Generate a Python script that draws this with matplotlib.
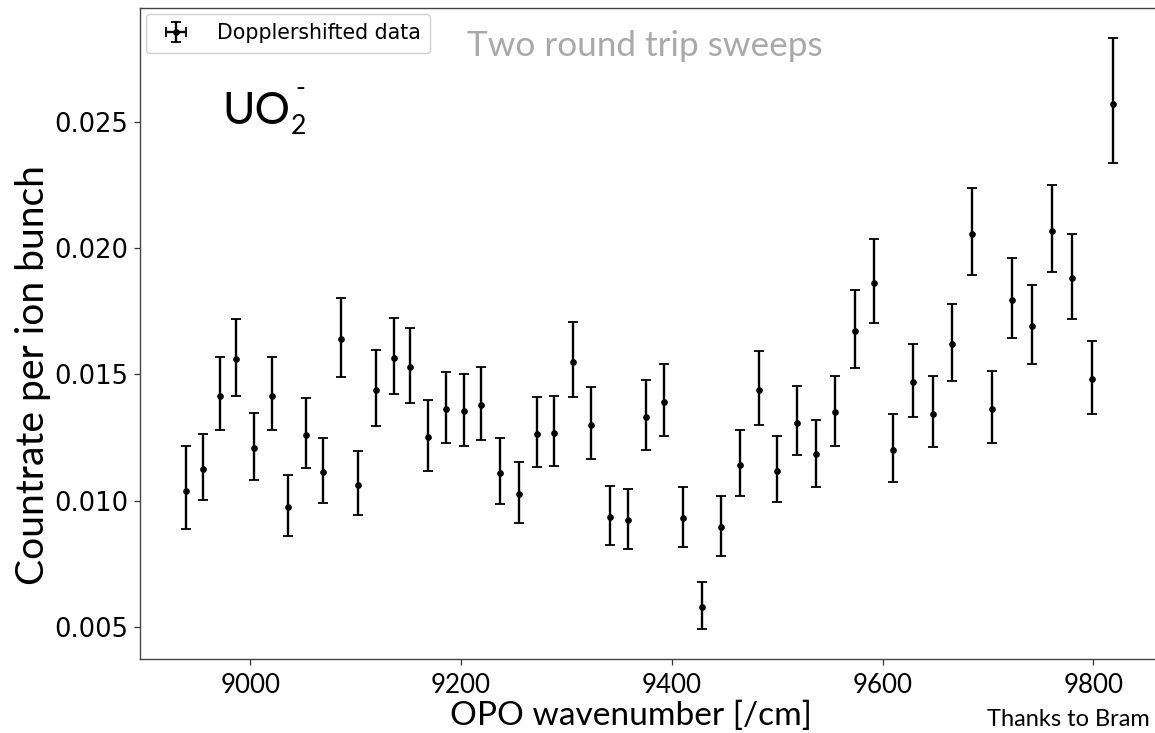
import matplotlib
matplotlib.use('Agg')
import matplotlib.pyplot as plt
import numpy as np

# ---------------- data ----------------
wavenumber = [8939, 8955, 8971, 8987, 9004, 9021, 9036, 9053, 9069, 9086,
              9102, 9119, 9136, 9152, 9169, 9186, 9203, 9219, 9237, 9255,
              9272, 9288, 9306, 9323, 9341, 9358, 9376, 9393, 9411, 9429,
              9447, 9465, 9483, 9500, 9519, 9537, 9555, 9574, 9592, 9610,
              9629, 9648, 9666, 9685, 9704, 9723, 9742, 9761, 9780, 9799,
              9819]
countrate = [0.01040, 0.01126, 0.01416, 0.01562, 0.01208, 0.01416, 0.00974, 0.01260, 0.01115, 0.01640,
             0.01063, 0.01438, 0.01566, 0.01528, 0.01252, 0.01364, 0.01353, 0.01379, 0.01111, 0.01026,
             0.01264, 0.01268, 0.01550, 0.01301, 0.00937, 0.00923, 0.01331, 0.01389, 0.00930, 0.00579,
             0.00895, 0.01142, 0.01439, 0.01118, 0.01309, 0.01183, 0.01350, 0.01673, 0.01862, 0.01201,
             0.01471, 0.01345, 0.01620, 0.02055, 0.01364, 0.01794, 0.01691, 0.02066, 0.01881, 0.01480,
             0.02571]
upper_bound = [0.01215, 0.01264, 0.01568, 0.01717, 0.01349, 0.01568, 0.01100, 0.01405, 0.01249, 0.01803,
               0.01197, 0.01595, 0.01721, 0.01684, 0.01397, 0.01509, 0.01501, 0.01528, 0.01249, 0.01152,
               0.01409, 0.01413, 0.01707, 0.01450, 0.01060, 0.01048, 0.01479, 0.01542, 0.01056, 0.00679,
               0.01019, 0.01279, 0.01591, 0.01256, 0.01453, 0.01319, 0.01493, 0.01835, 0.02036, 0.01342,
               0.01620, 0.01493, 0.01778, 0.02236, 0.01512, 0.01962, 0.01855, 0.02248, 0.02055, 0.01632,
               0.02832]
lower_bound = [0.00889, 0.01003, 0.01279, 0.01416, 0.01081, 0.01279, 0.00862, 0.01130, 0.00993, 0.01491,
               0.00944, 0.01297, 0.01424, 0.01385, 0.01119, 0.01230, 0.01215, 0.01242, 0.00987, 0.00910,
               0.01134, 0.01138, 0.01409, 0.01167, 0.00825, 0.00809, 0.01200, 0.01256, 0.00817, 0.00491,
               0.00783, 0.01018, 0.01300, 0.00995, 0.01179, 0.01055, 0.01215, 0.01524, 0.01702, 0.01074,
               0.01330, 0.01211, 0.01472, 0.01891, 0.01230, 0.01644, 0.01542, 0.01903, 0.01720, 0.01342,
               0.02335]
x_ticks = [9000, 9200, 9400, 9600, 9800]
x_ticklabels = ['9000', '9200', '9400', '9600', '9800']
y_ticks = [0.005, 0.010, 0.015, 0.020, 0.025]
y_ticklabels = ['0.005', '0.010', '0.015', '0.020', '0.025']
x_limits = (8895.5, 9875.0)

# ---------------- figure ----------------
W, H = 1155, 733
fig = plt.figure(figsize=(W / 100, H / 100), dpi=100)
renderer = fig.canvas.get_renderer()


def fx(x):
    return x / W


def fy(y):
    return 1 - y / H


def text_len(t):
    bb = t.get_window_extent(renderer=renderer)
    return bb.height if t.get_rotation() in (90, 270) else bb.width


def fit(t, target):
    """scale font size so the text gets the target pixel length"""
    t.set_fontsize(t.get_fontsize() * target / text_len(t))


px_per_unit = 1.0541
ax_right = 140 + (x_limits[1] - x_limits[0]) * px_per_unit
ax = fig.add_axes([fx(140), fy(659), (ax_right - 140) / W, (659 - 8) / H])

y = np.array(countrate)
yerr = np.vstack([y - np.array(lower_bound), np.array(upper_bound) - y])
ax.errorbar(wavenumber, countrate, yerr=yerr, xerr=np.zeros(len(y)),
            fmt='o', color='black', ms=3.8, elinewidth=1.7,
            capsize=3.6, capthick=1.3, label='Dopplershifted data')
ax.set_xlim(*x_limits)

# size for x tick labels: make "9000" about 60 px wide
probe = fig.text(0, 0, x_ticklabels[0], fontfamily='Lato', fontsize=20)
xt_fs = 20 * 60 / text_len(probe)
probe.remove()

ax.set_xticks(x_ticks, labels=x_ticklabels, fontfamily='Lato', fontsize=xt_fs)
ax.set_yticks(y_ticks, labels=y_ticklabels, fontfamily='DejaVu Sans', fontsize=18.5)
ax.tick_params(axis='both', length=4.5, width=0.9, color='#333333')
ax.tick_params(axis='x', pad=5.5)
ax.tick_params(axis='y', pad=4)

for s in ax.spines.values():
    s.set_color('#444444')
    s.set_linewidth(1.0)

leg = ax.legend(loc='upper left', fontsize=14.8, borderaxespad=0.3,
                handlelength=2.0, handletextpad=1.0, borderpad=0.45,
                framealpha=1.0, edgecolor='#d0d0d0')

# axis labels
ax.set_xlabel('OPO wavenumber [/cm]', fontfamily='Lato', fontsize=24)
ax.set_ylabel('Countrate per ion bunch', fontfamily='Lato', fontsize=24)
fit(ax.xaxis.label, 362)
fit(ax.yaxis.label, 420)
ax.xaxis.label.set_va('baseline')
ax.xaxis.set_label_coords((631 - 140) / (ax_right - 140), -(725 - 659) / (659 - 8))
ax.yaxis.label.set_va('center')
ax.yaxis.set_label_coords(-(140 - 33) / (ax_right - 140), (659 - 375) / (659 - 8))

# annotations
t1 = fig.text(fx(467), fy(56), 'Two round trip sweeps', fontfamily='Lato',
              fontsize=24, color='#a9a9a9', va='baseline', ha='left')
fit(t1, 356)
t2 = fig.text(fx(1150), fy(726), 'Thanks to Bram', fontfamily='Lato',
              fontsize=14, color='black', va='baseline', ha='right')
fit(t2, 164)
u = fig.text(fx(222), fy(124), 'UO', fontfamily='Lato', fontsize=34,
             color='black', va='baseline', ha='left')
fit(u, 68)
ub = u.get_window_extent(renderer=renderer)
fs_sub = u.get_fontsize() * 0.6
fig.text((ub.x1 + 1) / W, fy(134), '2', fontfamily='Lato', fontsize=fs_sub,
         color='black', va='baseline', ha='left')
fig.text((ub.x1 + 5) / W, fy(96), '-', fontfamily='Lato', fontsize=fs_sub,
         color='black', va='baseline', ha='left')

fig.savefig('out.png', dpi=100)
